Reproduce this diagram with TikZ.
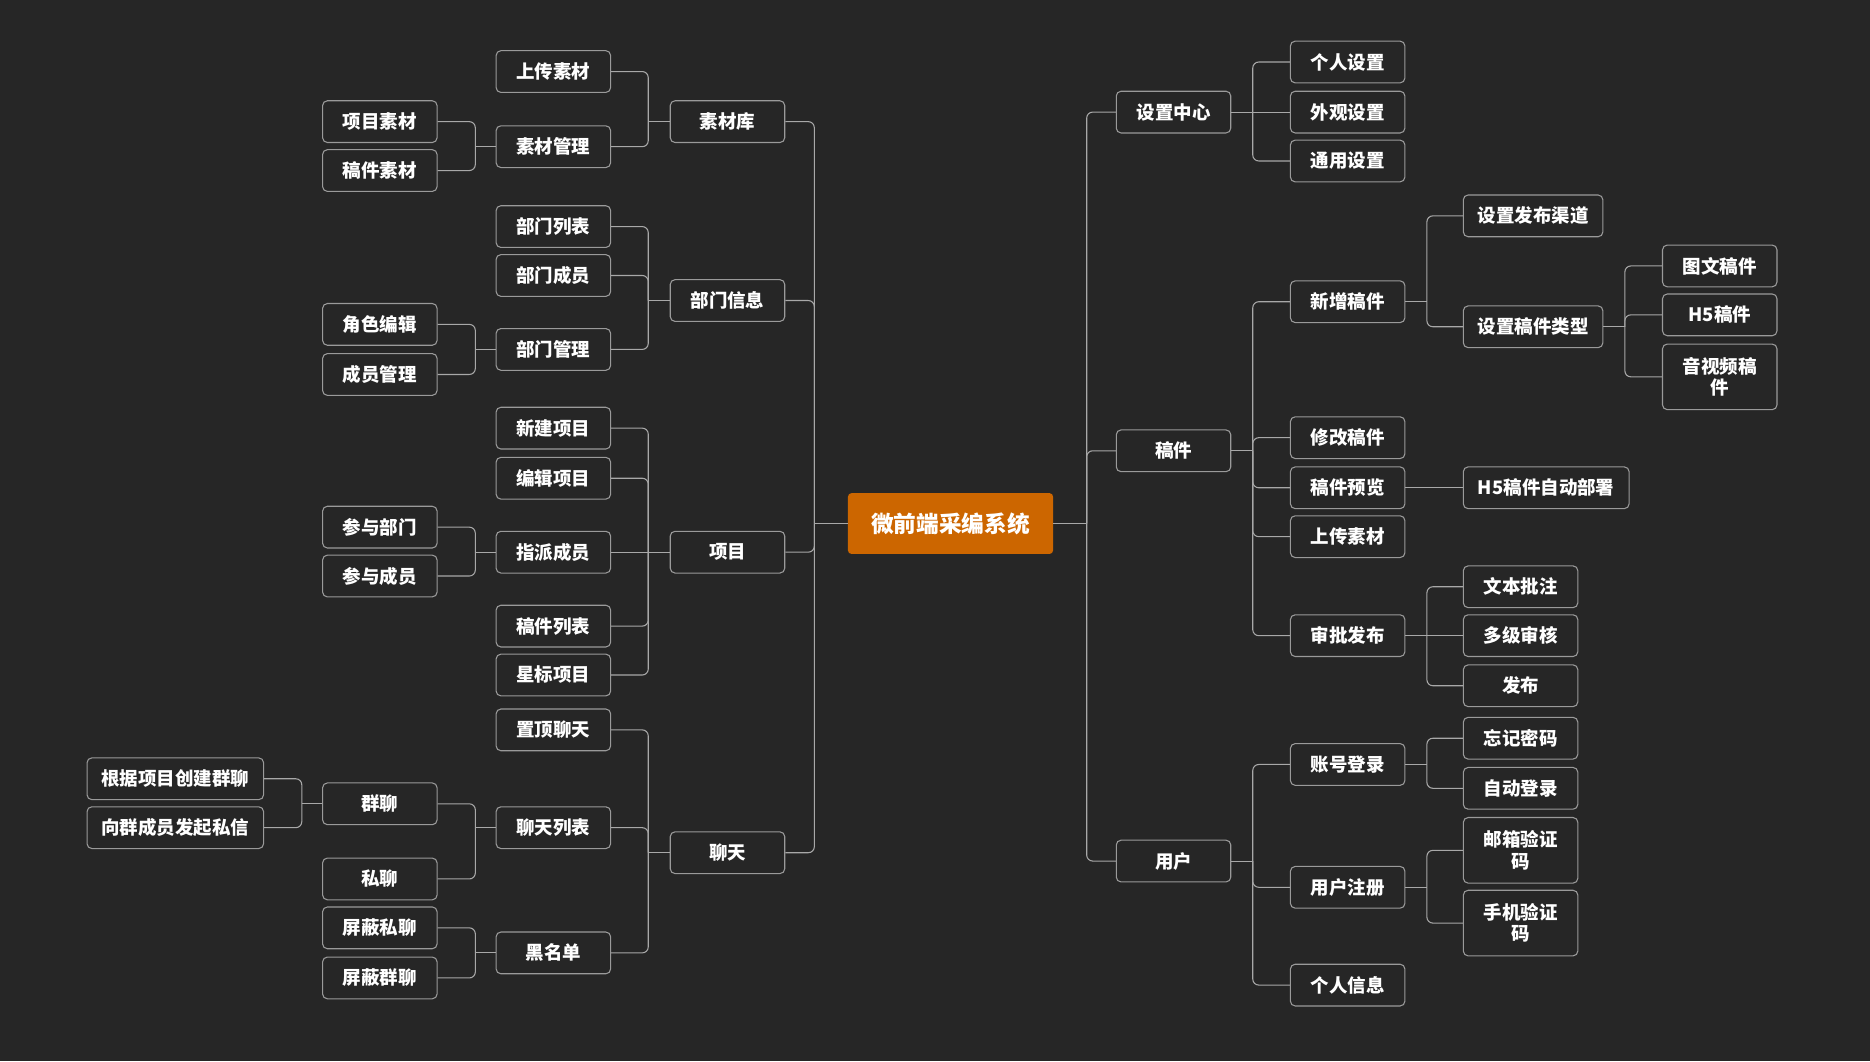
\documentclass[tikz,border=0pt]{standalone}
\usepackage{fontspec}
\newfontfamily\cjk{Noto Sans CJK SC}
\definecolor{bgc}{HTML}{262626}
\definecolor{bordc}{HTML}{9A9A9A}
\definecolor{linec}{HTML}{A8A8A8}
\definecolor{rootc}{HTML}{CC6600}
\tikzset{
  box/.style={draw=bordc, line width=0.9pt, fill=bgc, rounded corners=4pt, minimum width=96pt, minimum height=35pt, text=white, font=\cjk\bfseries\fontsize{15.5}{18}\selectfont, inner sep=2pt, align=center},
  wide/.style={minimum width=117pt},
  wider/.style={minimum width=139pt},
  widest/.style={minimum width=148pt},
  tall/.style={minimum height=55pt},
  rootbox/.style={fill=rootc, rounded corners=3pt, minimum width=172pt, minimum height=51pt, text=white, font=\cjk\bfseries\fontsize{19}{22}\selectfont},
  conn/.style={draw=linec, line width=0.9pt},
}
\newcommand\lnkL[3]{\path (#1.west) ++(-#3,0) coordinate (jx);
  \draw[conn] (#1.west) -- (jx);
  \draw[conn, rounded corners=5pt] (jx) |- (#2.east);}
\newcommand\lnkR[3]{\path (#1.east) ++(#3,0) coordinate (jx);
  \draw[conn] (#1.east) -- (jx);
  \draw[conn, rounded corners=5pt] (jx) |- (#2.west);}
\begin{document}
\begin{tikzpicture}[x=1pt,y=-1pt]
\fill[bgc] (0,0) rectangle (1568,890);
\useasboundingbox (0,0) rectangle (1568,890);
% root
\node[rootbox] (root) at (797,439) {微前端采编系统};
% left column 4
\node[box] (sck) at (610,102) {素材库};
\node[box] (bmxx) at (610,252) {部门信息};
\node[box] (xm) at (610,463) {项目};
\node[box] (lt) at (610,715) {聊天};
% left column 3
\node[box] (scsc) at (464,60) {上传素材};
\node[box] (scgl) at (464,123) {素材管理};
\node[box] (bmlb) at (464,190) {部门列表};
\node[box] (bmcy) at (464,231) {部门成员};
\node[box] (bmgl) at (464,293) {部门管理};
\node[box] (xjxm) at (464,359) {新建项目};
\node[box] (bjxm) at (464,401) {编辑项目};
\node[box] (zpcy) at (464,463) {指派成员};
\node[box] (gjlb) at (464,525) {稿件列表};
\node[box] (xbxm) at (464,566) {星标项目};
\node[box] (zdlt) at (464,612) {置顶聊天};
\node[box] (ltlb) at (464,694) {聊天列表};
\node[box] (hmd) at (464,799) {黑名单};
% left column 2
\node[box] (xmsc) at (318.5,102) {项目素材};
\node[box] (gjsc) at (318.5,143) {稿件素材};
\node[box] (jsbj) at (318.5,272) {角色编辑};
\node[box] (cygl) at (318.5,314) {成员管理};
\node[box] (cybm) at (318.5,442) {参与部门};
\node[box] (cycy) at (318.5,483) {参与成员};
\node[box] (ql) at (318.5,674) {群聊};
\node[box] (sl) at (318.5,737) {私聊};
\node[box] (pbsl) at (318.5,778) {屏蔽私聊};
\node[box] (pbql) at (318.5,820) {屏蔽群聊};
% left column 1
\node[box,widest] (gjxm) at (147,653) {根据项目创建群聊};
\node[box,widest] (xqcy) at (147,694) {向群成员发起私信};
% right column A
\node[box] (szzx) at (984,94) {设置中心};
\node[box] (gj) at (984,378) {稿件};
\node[box] (yh) at (984,722) {用户};
% right column B
\node[box] (grsz) at (1130,52) {个人设置};
\node[box] (wgsz) at (1130,94) {外观设置};
\node[box] (tysz) at (1130,135) {通用设置};
\node[box] (xzgj) at (1130,253) {新增稿件};
\node[box] (xggj) at (1130,367) {修改稿件};
\node[box] (gjyl) at (1130,409) {稿件预览};
\node[box] (scsc2) at (1130,450) {上传素材};
\node[box] (spfb) at (1130,533) {审批发布};
\node[box] (zhdl) at (1130,641) {账号登录};
\node[box] (yhzc) at (1130,744) {用户注册};
\node[box] (grxx) at (1130,826) {个人信息};
% right column C
\node[box,wide] (szfbqd) at (1285.5,181) {设置发布渠道};
\node[box,wide] (szgjlx) at (1285.5,274) {设置稿件类型};
\node[box,wider] (h5zd) at (1296.5,409) {H5稿件自动部署};
\node[box] (wbpz) at (1275,492) {文本批注};
\node[box] (djsh) at (1275,533) {多级审核};
\node[box] (fb) at (1275,575) {发布};
\node[box] (wjmm) at (1275,619) {忘记密码};
\node[box] (zddl) at (1275,661) {自动登录};
\node[box,tall] (yxyzm) at (1275,713) {邮箱验证\\码};
\node[box,tall] (sjyzm) at (1275,774) {手机验证\\码};
% right column D
\node[box] (twgj) at (1442,223) {图文稿件};
\node[box] (h5gj) at (1442,264) {H5稿件};
\node[box,tall] (yspgj) at (1442,316) {音视频稿\\件};
% connectors left
\foreach \c in {sck,bmxx,xm,lt} {\lnkL{root}{\c}{28}}
\foreach \c in {scsc,scgl} {\lnkL{sck}{\c}{18}}
\foreach \c in {bmlb,bmcy,bmgl} {\lnkL{bmxx}{\c}{18}}
\foreach \c in {xjxm,bjxm,gjlb,xbxm} {\lnkL{xm}{\c}{18}}
\draw[conn] (xm.west) -- (zpcy.east);
\foreach \c in {zdlt,ltlb,hmd} {\lnkL{lt}{\c}{18}}
\foreach \c in {xmsc,gjsc} {\lnkL{scgl}{\c}{17}}
\foreach \c in {jsbj,cygl} {\lnkL{bmgl}{\c}{17}}
\foreach \c in {cybm,cycy} {\lnkL{zpcy}{\c}{17}}
\foreach \c in {ql,sl} {\lnkL{ltlb}{\c}{17}}
\foreach \c in {pbsl,pbql} {\lnkL{hmd}{\c}{17}}
\foreach \c in {gjxm,xqcy} {\lnkL{ql}{\c}{17}}
% connectors right
\foreach \c in {szzx,gj,yh} {\lnkR{root}{\c}{28}}
\foreach \c in {grsz,tysz} {\lnkR{szzx}{\c}{18}}
\draw[conn] (szzx.east) -- (wgsz.west);
\foreach \c in {xzgj,xggj,gjyl,scsc2,spfb} {\lnkR{gj}{\c}{18}}
\foreach \c in {zhdl,yhzc,grxx} {\lnkR{yh}{\c}{18}}
\foreach \c in {szfbqd,szgjlx} {\lnkR{xzgj}{\c}{18}}
\draw[conn] (gjyl.east) -- (h5zd.west);
\foreach \c in {wbpz,fb} {\lnkR{spfb}{\c}{18}}
\draw[conn] (spfb.east) -- (djsh.west);
\foreach \c in {wjmm,zddl} {\lnkR{zhdl}{\c}{18}}
\foreach \c in {yxyzm,sjyzm} {\lnkR{yhzc}{\c}{18}}
\foreach \c in {twgj,h5gj,yspgj} {\lnkR{szgjlx}{\c}{18}}
\end{tikzpicture}
\end{document}
